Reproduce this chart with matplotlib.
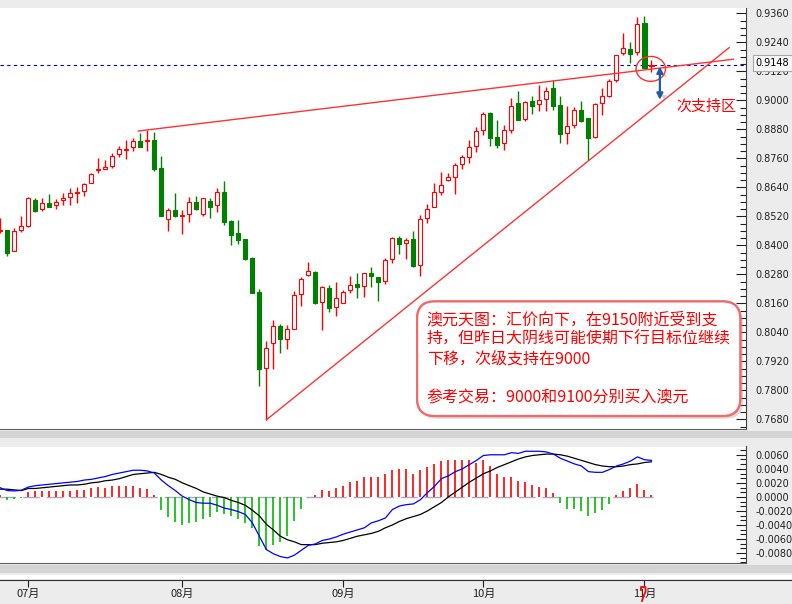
import numpy as np
import matplotlib
matplotlib.use('Agg')
import matplotlib.pyplot as plt
from matplotlib.patches import Ellipse, Rectangle
from matplotlib.lines import Line2D
from matplotlib.ticker import FormatStrFormatter, AutoMinorLocator
import matplotlib.patheffects as pe

plt.rcParams['font.family'] = ['Noto Sans CJK SC', 'DejaVu Sans']

# 澳元日线，第一根在左边被截断
opens = [0.8460, 0.8463, 0.8378, 0.8462, 0.8480, 0.8588, 0.8549, 0.8574, 0.8565, 0.8586,
         0.8599, 0.8616, 0.8623, 0.8656, 0.8713, 0.8717, 0.8727, 0.8776, 0.8796, 0.8805,
         0.8832, 0.8830, 0.8836, 0.8719, 0.8508, 0.8546, 0.8523, 0.8528, 0.8579, 0.8531,
         0.8583, 0.8565, 0.8621, 0.8501, 0.8451, 0.8426, 0.8348, 0.8207, 0.7894, 0.7997,
         0.8066, 0.8011, 0.8055, 0.8197, 0.8279, 0.8291, 0.8167, 0.8222, 0.8146, 0.8160,
         0.8215, 0.8240, 0.8232, 0.8284, 0.8268, 0.8254, 0.8345, 0.8429, 0.8408, 0.8425,
         0.8320, 0.8512, 0.8557, 0.8622, 0.8669, 0.8684, 0.8738, 0.8767, 0.8810, 0.8879,
         0.8949, 0.8847, 0.8822, 0.8879, 0.8989, 0.8924, 0.8997, 0.8983, 0.9004, 0.9051,
         0.8981, 0.8866, 0.8897, 0.8960, 0.8927, 0.8847, 0.8988, 0.9019, 0.9084, 0.9194,
         0.9211, 0.9199, 0.9318, 0.9144]
highs = [0.8512, 0.8463, 0.8470, 0.8520, 0.8599, 0.8596, 0.8594, 0.8612, 0.8590, 0.8615,
         0.8636, 0.8643, 0.8659, 0.8701, 0.8763, 0.8753, 0.8781, 0.8811, 0.8836, 0.8843,
         0.8866, 0.8877, 0.8870, 0.8770, 0.8553, 0.8618, 0.8546, 0.8601, 0.8604, 0.8597,
         0.8594, 0.8636, 0.8666, 0.8505, 0.8505, 0.8426, 0.8352, 0.8218, 0.8004, 0.8091,
         0.8074, 0.8070, 0.8211, 0.8270, 0.8331, 0.8295, 0.8232, 0.8236, 0.8250, 0.8215,
         0.8273, 0.8284, 0.8287, 0.8312, 0.8270, 0.8346, 0.8436, 0.8439, 0.8429, 0.8459,
         0.8526, 0.8570, 0.8659, 0.8702, 0.8698, 0.8739, 0.8774, 0.8836, 0.8891, 0.8953,
         0.8953, 0.8919, 0.8898, 0.9011, 0.9038, 0.8999, 0.9019, 0.9063, 0.9054, 0.9084,
         0.9018, 0.8976, 0.8974, 0.8997, 0.8927, 0.8988, 0.9050, 0.9087, 0.9187, 0.9277,
         0.9241, 0.9346, 0.9349, 0.9167]
lows = [0.8452, 0.8357, 0.8378, 0.8457, 0.8477, 0.8539, 0.8543, 0.8557, 0.8552, 0.8568,
        0.8567, 0.8577, 0.8604, 0.8656, 0.8698, 0.8714, 0.8721, 0.8767, 0.8757, 0.8792,
        0.8808, 0.8792, 0.8709, 0.8523, 0.8461, 0.8516, 0.8447, 0.8495, 0.8546, 0.8523,
        0.8514, 0.8539, 0.8485, 0.8401, 0.8405, 0.8339, 0.8204, 0.7818, 0.7677, 0.7888,
        0.7956, 0.7970, 0.8055, 0.8149, 0.8275, 0.8157, 0.8050, 0.8126, 0.8108, 0.8160,
        0.8202, 0.8181, 0.8188, 0.8229, 0.8171, 0.8239, 0.8326, 0.8364, 0.8343, 0.8312,
        0.8273, 0.8491, 0.8557, 0.8608, 0.8668, 0.8612, 0.8716, 0.8742, 0.8786, 0.8857,
        0.8811, 0.8801, 0.8794, 0.8866, 0.8919, 0.8916, 0.8943, 0.8956, 0.8956, 0.8960,
        0.8823, 0.8819, 0.8887, 0.8912, 0.8753, 0.8843, 0.8939, 0.9015, 0.9077, 0.9187,
        0.9153, 0.9187, 0.9132, 0.9119]
closes = [0.8465, 0.8370, 0.8459, 0.8479, 0.8594, 0.8543, 0.8574, 0.8560, 0.8578, 0.8594,
          0.8615, 0.8622, 0.8652, 0.8694, 0.8716, 0.8723, 0.8768, 0.8797, 0.8799, 0.8830,
          0.8808, 0.8834, 0.8716, 0.8523, 0.8546, 0.8523, 0.8525, 0.8578, 0.8549, 0.8594,
          0.8560, 0.8619, 0.8498, 0.8443, 0.8422, 0.8345, 0.8204, 0.7887, 0.7974, 0.8065,
          0.8011, 0.8052, 0.8195, 0.8259, 0.8292, 0.8160, 0.8229, 0.8139, 0.8181, 0.8208,
          0.8236, 0.8226, 0.8284, 0.8273, 0.8250, 0.8339, 0.8429, 0.8404, 0.8421, 0.8316,
          0.8508, 0.8549, 0.8619, 0.8648, 0.8683, 0.8731, 0.8765, 0.8805, 0.8872, 0.8943,
          0.8846, 0.8817, 0.8877, 0.8976, 0.8919, 0.8993, 0.8978, 0.9000, 0.9037, 0.8978,
          0.8862, 0.8892, 0.8959, 0.8916, 0.8843, 0.8983, 0.9016, 0.9079, 0.9187, 0.9215,
          0.9192, 0.9314, 0.9135, 0.9148]

# MACD 副图
macd_hist = [0.0003, -0.0005, -0.0003, -0.0002, 0.0007, 0.0008, 0.0009, 0.0009, 0.0009, 0.0009,
             0.0009, 0.00095, 0.0010, 0.0012, 0.0014, 0.0013, 0.0016, 0.0016, 0.0016, 0.0016,
             0.0013, 0.0011, 0.0002, -0.0019, -0.0029, -0.0036, -0.0040, -0.0037, -0.0036, -0.0032,
             -0.0028, -0.0022, -0.0024, -0.0027, -0.0031, -0.0037, -0.0044, -0.0070, -0.0075, -0.0069,
             -0.0064, -0.0055, -0.0035, -0.0017, 0.0, 0.0003, 0.0010, 0.0009, 0.0012, 0.0016,
             0.0021, 0.0022, 0.0028, 0.0029, 0.0028, 0.0032, 0.0039, 0.0040, 0.0040, 0.0033,
             0.0039, 0.0043, 0.0047, 0.0051, 0.0052, 0.0052, 0.0052, 0.0052, 0.0048, 0.0053,
             0.0044, 0.0033, 0.0029, 0.0029, 0.0023, 0.0021, 0.0017, 0.0014, 0.0012, 0.0005,
             -0.0009, -0.0017, -0.0017, -0.0020, -0.0027, -0.0023, -0.0018, -0.0010, 0.0002, 0.0009,
             0.0012, 0.0019, 0.0010, 0.0003]
macd_dif = [0.0013, 0.0009, 0.00085, 0.00095, 0.0014, 0.0016, 0.0017, 0.0018, 0.0019, 0.0020,
            0.0021, 0.0022, 0.0024, 0.0025, 0.0027, 0.0029, 0.0032, 0.0034, 0.0036, 0.0038,
            0.0038, 0.0037, 0.0034, 0.0024, 0.0016, 0.0009, 0.0001, -0.0004, -0.0008, -0.0009,
            -0.0009, -0.0012, -0.0016, -0.0018, -0.0021, -0.0025, -0.0037, -0.0056, -0.0075, -0.0081,
            -0.0085, -0.0087, -0.0083, -0.0076, -0.0069, -0.0067, -0.0062, -0.0060, -0.0057, -0.0053,
            -0.0050, -0.0047, -0.0044, -0.0037, -0.0034, -0.0030, -0.0018, -0.0013, -0.0011, -0.0010,
            -0.0004, 0.0006, 0.0015, 0.0026, 0.0030, 0.0036, 0.0040, 0.0046, 0.0052, 0.0059,
            0.0060, 0.0060, 0.0060, 0.0063, 0.0062, 0.0065, 0.0065, 0.0065, 0.0064, 0.0061,
            0.0055, 0.0051, 0.0047, 0.0044, 0.0036, 0.0035, 0.0035, 0.0039, 0.0044, 0.0047,
            0.0051, 0.0057, 0.0053, 0.0052]
macd_dea = [0.0011, 0.0011, 0.0010, 0.0009, 0.0012, 0.0012, 0.0013, 0.0014, 0.0015, 0.0016,
            0.0017, 0.0017, 0.0018, 0.0020, 0.0021, 0.0023, 0.0024, 0.0026, 0.0029, 0.0032,
            0.0033, 0.0034, 0.0035, 0.0032, 0.0028, 0.0025, 0.0020, 0.0016, 0.0012, 0.0007,
            0.0004, 0.0001, -0.0001, -0.0005, -0.0008, -0.0012, -0.0019, -0.0027, -0.0039, -0.0047,
            -0.0056, -0.0061, -0.0064, -0.0068, -0.0068, -0.0068, -0.0066, -0.0065, -0.0064, -0.0062,
            -0.0059, -0.0056, -0.0054, -0.0052, -0.0049, -0.0044, -0.0040, -0.0035, -0.0031, -0.0028,
            -0.0025, -0.0020, -0.0014, -0.0008, 0.0000, 0.0007, 0.0014, 0.0021, 0.0027, 0.0033,
            0.0037, 0.0042, 0.0046, 0.0050, 0.0054, 0.0057, 0.0059, 0.0060, 0.0061, 0.0061,
            0.0060, 0.0058, 0.0055, 0.0052, 0.0049, 0.0046, 0.0044, 0.0043, 0.0043, 0.0044,
            0.0046, 0.0047, 0.0049, 0.0050]

month_pos = [3, 25, 48, 68, 91]
month_labels = ['07月', '08月', '09月', '10月', '11月']
price_ticks = [0.7680, 0.7800, 0.7920, 0.8040, 0.8160, 0.8280, 0.8400, 0.8520,
               0.8640, 0.8760, 0.8880, 0.9000, 0.9120, 0.9240, 0.9360]
macd_ticks = [-0.0080, -0.0060, -0.0040, -0.0020, 0.0000, 0.0020, 0.0040, 0.0060]

# 趋势线 (K线序号, 价格)
upper_x, upper_y = [18.7, 103.7], [0.8873, 0.9170]
lower_x, lower_y = [37.0, 103.1], [0.7678, 0.9218]
last_price = 0.9148

note = ("澳元天图：汇价向下，在9150附近受到支\n"
        "持，但昨日大阴线可能使期下行目标位继续\n"
        "下移，次级支持在9000\n"
        "\n"
        "参考交易：9000和9100分别买入澳元")

W, H = 792, 604
RED = '#ff0000'
GREEN = '#008000'

fig = plt.figure(figsize=(W / 100, H / 100), dpi=100)
fig.patch.set_facecolor('#ececec')

# 分隔条
fig.add_artist(Rectangle((0, 1 - 438 / H), 1, 7 / H, transform=fig.transFigure,
                         fc='#d4d4d4', ec='none', zorder=0))
fig.add_artist(Rectangle((0, 1 - 573 / H), 1, 8 / H, transform=fig.transFigure,
                         fc='#d4d4d4', ec='none', zorder=0))
fig.add_artist(Rectangle((0, 1 - 579 / H), 1, 4 / H, transform=fig.transFigure,
                         fc='white', ec='none', zorder=0))

x = np.arange(len(opens)) - 1
o = np.array(opens)
c = np.array(closes)
up = c >= o
xmin, xmax = -1.04, 105.5

# ---- 主图 K线
ax1 = fig.add_axes([0, 1 - 429 / H, 746 / W, (429 - 8.3) / H])
ax1.set_facecolor('white')
ax1.vlines(x, lows, highs, colors=np.where(up, RED, GREEN), lw=1, zorder=2)
ax1.bar(x, np.abs(c - o), bottom=np.minimum(o, c), width=0.58,
        color=np.where(up, 'white', GREEN), edgecolor=np.where(up, RED, GREEN),
        lw=0.8, zorder=3)
ax1.axhline(last_price, color='#0000c0', lw=0.8, ls=(0, (3, 3)), zorder=1)
ax1.plot(upper_x, upper_y, color='#ff3333', lw=1, zorder=4)
ax1.plot(lower_x, lower_y, color='#ff3333', lw=1, zorder=4)
ax1.add_patch(Ellipse((91.9, 0.9130), 4.2, 0.0103, fill=False, ec='#ff3030', lw=1, zorder=5))
ax1.annotate('', xy=(93.2, 0.9002), xytext=(93.2, 0.9140),
             arrowprops=dict(arrowstyle='<|-|>', color='#1f5c9e', lw=1.6, mutation_scale=9,
                             shrinkA=0, shrinkB=0,
                             path_effects=[pe.withSimplePatchShadow(offset=(3, -2),
                                                                    shadow_rgbFace='#888888',
                                                                    alpha=0.4)]),
             zorder=6)
ax1.text(676.7 / 746, 1 - (107 - 8.3) / 420.7, '次支持区', transform=ax1.transAxes,
         color=RED, fontsize=10.8, va='center', ha='left', zorder=6)
t = ax1.text(426.7 / 746, 1 - (311 - 8.3) / 420.7, note, transform=ax1.transAxes,
             color=RED, fontsize=11.5, va='top', ha='left', linespacing=1.2, zorder=7,
             bbox=dict(boxstyle='round,pad=0.6,rounding_size=1.1', fc='white',
                       ec='#f26a6a', lw=1.6))
t.get_bbox_patch().set_path_effects([pe.withSimplePatchShadow(offset=(2, -2),
                                                              shadow_rgbFace='#999999',
                                                              alpha=0.35), pe.Normal()])

ax1.set_xlim(xmin, xmax)
ax1.set_ylim(0.76401, 0.93807)
ax1.set_xticks([])
ax1.yaxis.tick_right()
ax1.set_yticks(price_ticks)
ax1.yaxis.set_major_formatter(FormatStrFormatter('%.4f'))
ax1.yaxis.set_minor_locator(AutoMinorLocator(4))
ax1.tick_params(axis='y', which='major', direction='in', length=7, width=0.8, pad=7,
                labelsize=7, colors='#202020')
ax1.tick_params(axis='y', which='minor', direction='in', length=4, width=0.8, colors='#202020')
for lab in ax1.get_yticklabels():
    lab.set_fontfamily('DejaVu Sans')
for s in ['top', 'left']:
    ax1.spines[s].set_visible(False)
ax1.spines['right'].set_color('#404040')
ax1.spines['bottom'].set_color('#606060')
# 当前价标签盖住 0.9120
ax1.annotate(f'{last_price:.4f}', xy=(1, last_price), xycoords=('axes fraction', 'data'),
             xytext=(7, 1), textcoords='offset points', va='center', ha='left',
             fontsize=7, fontfamily='DejaVu Sans', annotation_clip=False, zorder=10,
             bbox=dict(boxstyle='square,pad=0.3', fc='#f8f8f8', ec='#a8a8a8', lw=0.8))

# ---- MACD
hist = np.array(macd_hist)
ax2 = fig.add_axes([0, 1 - 563.3 / H, 746 / W, (563.3 - 446.5) / H])
ax2.set_facecolor('white')
ax2.hlines(0, x[0] - 0.5, x[-1] + 1, color='#a6adc0', lw=1, ls=(0, (12, 5)), zorder=1)
ax2.vlines(x, 0, hist, colors=np.where(hist >= 0, RED, '#00bb00'), lw=1.2, zorder=2)
ax2.plot(x, macd_dea, color='black', lw=0.9, zorder=3)
ax2.plot(x, macd_dif, color='#0000ff', lw=0.9, zorder=4)
ax2.set_xlim(xmin, xmax)
ax2.set_ylim(-0.00946, 0.00718)
ax2.set_xticks([])
ax2.yaxis.tick_right()
ax2.set_yticks(macd_ticks)
ax2.yaxis.set_major_formatter(FormatStrFormatter('%.4f'))
ax2.yaxis.set_minor_locator(AutoMinorLocator(3))
ax2.tick_params(axis='y', which='major', direction='in', length=7, width=0.8, pad=7,
                labelsize=7, colors='#202020')
ax2.tick_params(axis='y', which='minor', direction='in', length=4, width=0.8, colors='#202020')
for lab in ax2.get_yticklabels():
    lab.set_fontfamily('DejaVu Sans')
for s in ['top', 'left']:
    ax2.spines[s].set_visible(False)
ax2.spines['right'].set_color('#404040')
ax2.spines['bottom'].set_color('#606060')

# ---- 日期轴
ax3 = fig.add_axes([0, 1 - 580 / H, 1, 1 / H])
ax3.set_facecolor('none')
ax3.set_xlim(xmin, xmin + (xmax - xmin) * W / 746)
ax3.set_yticks([])
ax3.set_xticks(month_pos)
ax3.set_xticklabels(month_labels, fontsize=8)
ax3.tick_params(axis='x', direction='out', length=5, width=0.8, pad=1.5, colors='#202020')
for s in ['top', 'left', 'right']:
    ax3.spines[s].set_visible(False)
ax3.spines['bottom'].set_color('#303030')

# 11月 标签上的红色笔迹
mark_px = [(641, 590), (641, 587), (645.5, 587), (645.5, 592), (643.5, 596), (642, 601)]
fig.add_artist(Line2D([p[0] / W for p in mark_px], [1 - p[1] / H for p in mark_px],
                      transform=fig.transFigure, color=RED, lw=1.3, zorder=20))

fig.savefig('out.png', dpi=100, facecolor=fig.get_facecolor())
